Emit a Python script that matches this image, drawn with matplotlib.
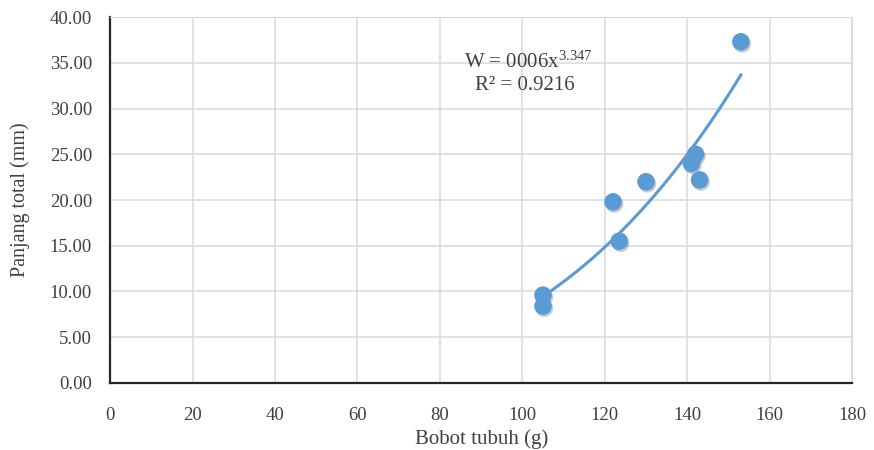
import numpy as np
import matplotlib
matplotlib.use("Agg")
import matplotlib.pyplot as plt
import matplotlib.patheffects as pe

# ── Data ──────────────────────────────────────────────────────────────
bobot   = [105.0, 105.0, 122.0, 123.5, 130.0, 141.0, 142.0, 143.0, 153.0]   # g
panjang = [9.6,   8.4,   19.8,  15.5,  22.0,  24.0,  25.0,  22.2,  37.3]    # mm

x_ticks = [0, 20, 40, 60, 80, 100, 120, 140, 160, 180]
y_ticks = [0, 5, 10, 15, 20, 25, 30, 35, 40]

eq_label = r"W = 0006x$^{3.347}$"
r2_label = "R² = 0.9216"

# ── Style ─────────────────────────────────────────────────────────────
plt.rcParams['font.family'] = ['Liberation Serif', 'DejaVu Serif']
plt.rcParams['mathtext.fontset'] = 'custom'
plt.rcParams['mathtext.rm'] = 'Liberation Serif'
plt.rcParams['mathtext.default'] = 'regular'

BLUE = '#5B9BD5'
GRID = '#D9D9D9'
TXT  = '#404040'

fig = plt.figure(figsize=(8.74, 4.5), dpi=100)
ax = fig.add_axes([0.126, 0.149, 0.849, 0.813])

# power trendline, fitted in log space like Excel does
bx = np.array(bobot)
by = np.array(panjang)
b, log_a = np.polyfit(np.log(bx), np.log(by), 1)
xs = np.linspace(bx.min(), bx.max(), 200)
ax.plot(xs, np.exp(log_a) * xs ** b, color=BLUE, lw=2.2, zorder=3)

ax.scatter(bobot, panjang, s=160, color=BLUE, zorder=4, linewidths=0,
           path_effects=[pe.SimplePatchShadow(offset=(1, -1.5), alpha=0.25),
                         pe.Normal()])

ax.set_xlim(0, 180)
ax.set_ylim(0, 40)
ax.set_xticks(x_ticks)
ax.set_yticks(y_ticks)
ax.set_yticklabels([f"{v:.2f}" for v in y_ticks])
ax.tick_params(length=0, labelsize=13.5, colors=TXT, labelcolor=TXT)
ax.tick_params(axis='x', pad=17)
ax.tick_params(axis='y', pad=13)

ax.grid(True, color=GRID, lw=1.1)
ax.set_axisbelow(True)
for s in ['top', 'right']:
    ax.spines[s].set_color(GRID)
for s in ['left', 'bottom']:
    ax.spines[s].set_color('#262626')
    ax.spines[s].set_linewidth(1.6)

ax.set_xlabel('Bobot tubuh (g)', fontsize=15, color=TXT, labelpad=4)
ax.set_ylabel('Panjang total (mm)', fontsize=14.5, color=TXT, labelpad=14)

ax.text(0.563, 0.877, eq_label, transform=ax.transAxes, ha='center',
        va='center', fontsize=15, color=TXT)
ax.text(0.559, 0.814, r2_label, transform=ax.transAxes, ha='center',
        va='center', fontsize=15, color=TXT)

fig.savefig('out.png', dpi=100)
